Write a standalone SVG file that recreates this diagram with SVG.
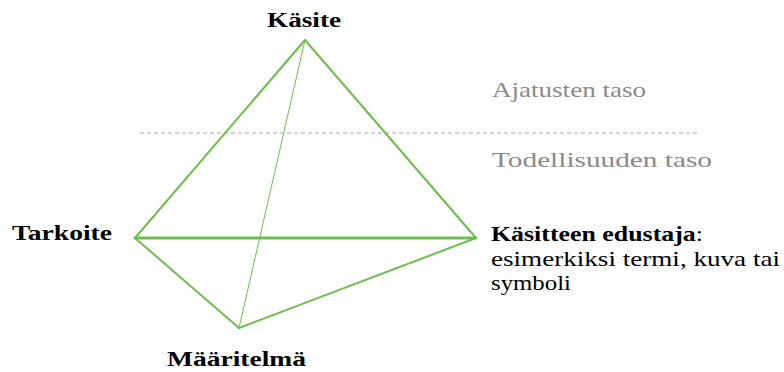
<svg xmlns="http://www.w3.org/2000/svg" width="784" height="372" viewBox="0 0 784 372">
<style>
.lbl{font-size:21px;fill:#000}
.b{font-weight:bold}
.gray{font-size:22px;fill:#8a8a8a}
.edge{stroke:#6cbf4c;fill:none;stroke-linecap:round}
</style>
<rect width="784" height="372" fill="#fff"/>
<line x1="140" y1="133" x2="700" y2="133" stroke="#a6a6a6" stroke-width="1" stroke-dasharray="4,3"/>
<g id="connectors">
<line class="edge" x1="305" y1="40" x2="135" y2="238" stroke-width="2"/>
<line class="edge" x1="305" y1="40" x2="476" y2="238" stroke-width="2"/>
<line class="edge" x1="135" y1="238" x2="476" y2="238" stroke-width="2.8"/>
<line class="edge" x1="135" y1="238" x2="239" y2="328" stroke-width="2"/>
<line class="edge" x1="239" y1="328" x2="476" y2="238" stroke-width="2"/>
<line class="edge" x1="305" y1="40" x2="239" y2="328" stroke-width="1"/>
</g>
<g font-family="Liberation Serif, serif">
<g id="kasite"><text class="lbl b" x="267" y="27" textLength="74" lengthAdjust="spacingAndGlyphs">Käsite</text></g>
<g id="tarkoite"><text class="lbl b" x="12" y="240" textLength="100" lengthAdjust="spacingAndGlyphs">Tarkoite</text></g>
<g id="maaritelma"><text class="lbl b" x="167" y="366" textLength="139" lengthAdjust="spacingAndGlyphs">Määritelmä</text></g>
<g id="edustaja">
<text class="lbl" x="491" y="241" textLength="212" lengthAdjust="spacingAndGlyphs"><tspan class="b">Käsitteen edustaja</tspan>:</text>
<text class="lbl" x="491" y="266" textLength="289" lengthAdjust="spacingAndGlyphs">esimerkiksi termi, kuva tai</text>
<text class="lbl" x="491" y="290" textLength="80" lengthAdjust="spacingAndGlyphs">symboli</text>
</g>
<g id="levels">
<text class="gray" x="492" y="97" textLength="154" lengthAdjust="spacingAndGlyphs">Ajatusten taso</text>
<text class="gray" x="492" y="167" textLength="220" lengthAdjust="spacingAndGlyphs">Todellisuuden taso</text>
</g>
</g>
</svg>
